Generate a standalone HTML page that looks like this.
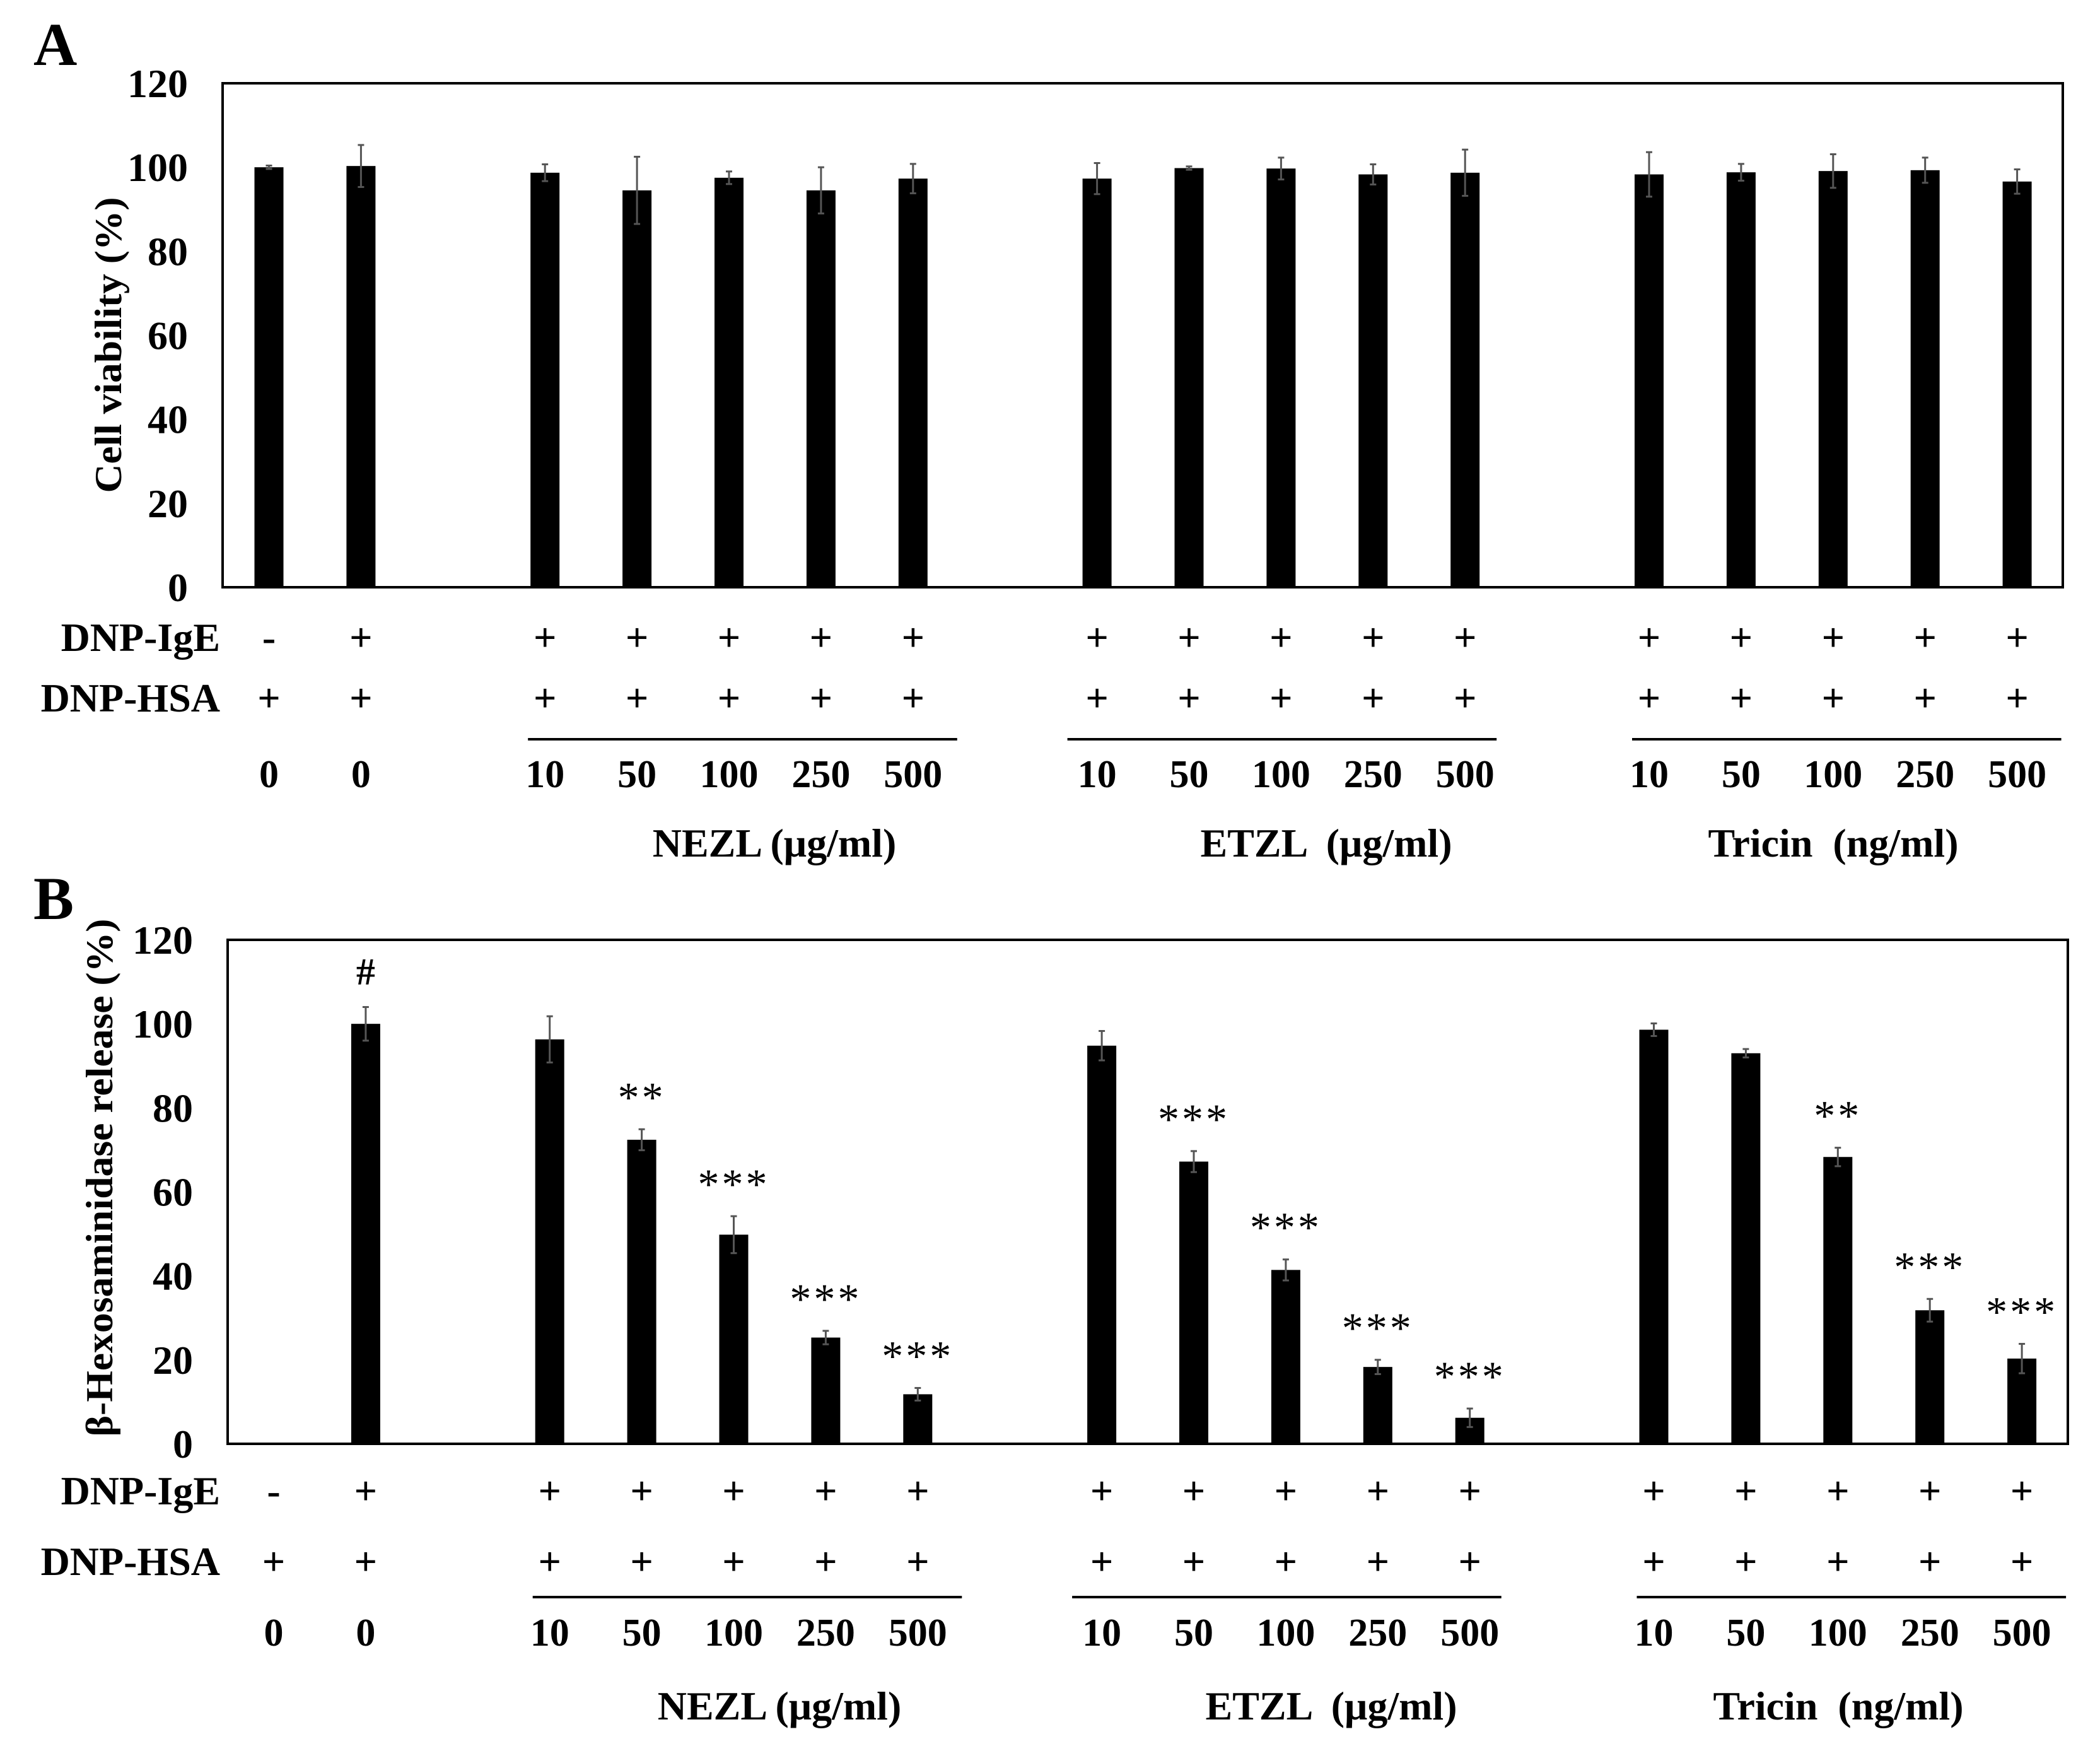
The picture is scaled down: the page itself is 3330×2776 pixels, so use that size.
<!DOCTYPE html>
<html><head><meta charset="utf-8"><style>
html,body{margin:0;padding:0;background:#fff;}
svg{display:block;font-family:"Liberation Serif",serif;font-weight:bold;}
</style></head><body>
<svg id="fig" width="3330" height="2776" viewBox="0 0 3330 2776" xmlns="http://www.w3.org/2000/svg"></svg>
<script>
// ---- data ----
const slotsUsed = [0,1,3,4,5,6,7,9,10,11,12,13,15,16,17,18,19];
const igeSigns = ['-','+','+','+','+','+','+','+','+','+','+','+','+','+','+','+','+'];
const hsaSigns = ['+','+','+','+','+','+','+','+','+','+','+','+','+','+','+','+','+'];
const doseLabels = ['0','0','10','50','100','250','500','10','50','100','250','500','10','50','100','250','500'];
const yTicks = [0,20,40,60,80,100,120];
const groupNames = ['NEZL (μg/ml)','ETZL  (μg/ml)','Tricin  (ng/ml)'];
const viability = [100,100.3,98.7,94.5,97.5,94.5,97.3,97.3,99.8,99.7,98.3,98.7,98.3,98.8,99.1,99.3,96.6];
const viabilityErr = [0.4,5,2,8,1.5,5.5,3.5,3.7,0.4,2.6,2.4,5.5,5.3,2,4,3,2.9];
const release = [0,100,96.3,72.4,49.8,25.3,11.8,94.8,67.2,41.4,18.3,6.2,98.6,93,68.3,31.8,20.3];
const releaseErr = [0,4,5.5,2.5,4.4,1.6,1.5,3.5,2.5,2.5,1.7,2.2,1.5,1,2.2,2.7,3.5];
const releaseSig = ['','#','','**','***','***','***','','***','***','***','***','','','**','***','***'];

const NS='http://www.w3.org/2000/svg';
const svg=document.getElementById('fig');
function mk(tag,attrs,parent){const e=document.createElementNS(NS,tag);for(const k in attrs)e.setAttribute(k,attrs[k]);(parent||svg).appendChild(e);return e;}
function txt(s,x,y,size,anchor,parent){const t=mk('text',{x:x,y:y,'font-size':size,'text-anchor':anchor||'middle',fill:'#000'},parent);t.textContent=s;return t;}

function panel(cfg){
  const g=mk('g',{});
  
  
  const xs=i=>cfg.slot0+slotsUsed[i]*cfg.pitch;
  const ys=v=>cfg.bottom-(v/120)*(cfg.bottom-cfg.top);
  const L=txt(cfg.letter,53,cfg.letterY,96,'start',g);
  
  
  yTicks.forEach(v=>{
    const t=txt(String(v),cfg.tickRight,ys(v)+22,64,'end',g);
    
    
  });
  const yt=mk('text',{x:0,y:0,'font-size':60,'text-anchor':'middle',fill:'#000',transform:`translate(${cfg.titleX},${cfg.titleY}) rotate(-90)`,textLength:cfg.titleLen,lengthAdjust:'spacingAndGlyphs'},g);
  yt.textContent=cfg.title;
  
  
  cfg.vals.forEach((v,i)=>{
    const cx=xs(i),w=46;
    if(v>0){
      const r=mk('rect',{x:cx-w/2,y:ys(v),width:w,height:cfg.bottom-ys(v),fill:'#000'},g);
      
      
    }
    const e=cfg.errs[i];
    if(e>0){
      const eg=mk('g',{stroke:'#555','stroke-width':3},g);
      
      
      mk('line',{x1:cx,x2:cx,y1:ys(v+e),y2:ys(v-e)},eg);
      mk('line',{x1:cx-5,x2:cx+5,y1:ys(v+e),y2:ys(v+e)},eg);
      mk('line',{x1:cx-5,x2:cx+5,y1:ys(v-e),y2:ys(v-e)},eg);
    }
    if(cfg.sig && cfg.sig[i]){
      const s=cfg.sig[i];
      const top=ys(v+e);
      let t;
      if(s==='#'){t=txt(s,cx,top-36,60,'middle',g);}
      else{t=txt(s,cx,top-58+30,68,'middle',g);t.setAttribute('font-weight','normal');t.setAttribute('letter-spacing','4');}
      
      
    }
  });
  const f=mk('rect',{x:cfg.left,y:cfg.top,width:cfg.right-cfg.left,height:cfg.bottom-cfg.top,fill:'none',stroke:'#000','stroke-width':4},g);
  
  
  const r1=txt('DNP-IgE',349,cfg.igeY,64,'end',g);
  
  
  const r2=txt('DNP-HSA',349,cfg.hsaY,64,'end',g);
  
  
  slotsUsed.forEach((s,i)=>{
    const cx=xs(i);
    const a=txt(igeSigns[i],cx,cfg.igeY,64,'middle',g);
    
    
    const b=txt(hsaSigns[i],cx,cfg.hsaY,64,'middle',g);
    
    
    const c=txt(doseLabels[i],cx,cfg.doseY,62,'middle',g);
    
    
  });
  const lineShift=[0,-20,0];
  [3,9,15].forEach((s,k)=>{
    const x1=cfg.slot0+s*cfg.pitch-27+lineShift[k],x2=cfg.slot0+(s+4)*cfg.pitch+70+lineShift[k];
    const ln=mk('line',{x1:x1,x2:x2,y1:cfg.lineY,y2:cfg.lineY,stroke:'#000','stroke-width':4},g);
    
    
    const t=txt(groupNames[k],cfg.groupX[k],cfg.groupY,64,'middle',g);
    t.setAttribute('xml:space','preserve');
    t.style.whiteSpace='pre';
    
    
  });
}

panel({name:'panel-a-viability',letter:'A',letterY:103,left:353,right:3271,top:132,bottom:931,slot0:426.5,pitch:145.9,
  tickRight:298,title:'Cell viability (%)',titleX:192,titleY:547,titleLen:469,
  vals:viability,errs:viabilityErr,sig:null,igeY:1032,hsaY:1128,lineY:1172,doseY:1248,groupY:1358,groupX:[1228,2103,2907]});
panel({name:'panel-b-hexosaminidase',letter:'B',letterY:1457,left:361,right:3279,top:1490,bottom:2289,slot0:434,pitch:145.9,
  tickRight:306,title:'β-Hexosaminidase  release (%)',titleX:178,titleY:1867,titleLen:821,
  vals:release,errs:releaseErr,sig:releaseSig,igeY:2385,hsaY:2497,lineY:2532,doseY:2609,groupY:2726,groupX:[1236,2111,2915]});
</script>
</body></html>
